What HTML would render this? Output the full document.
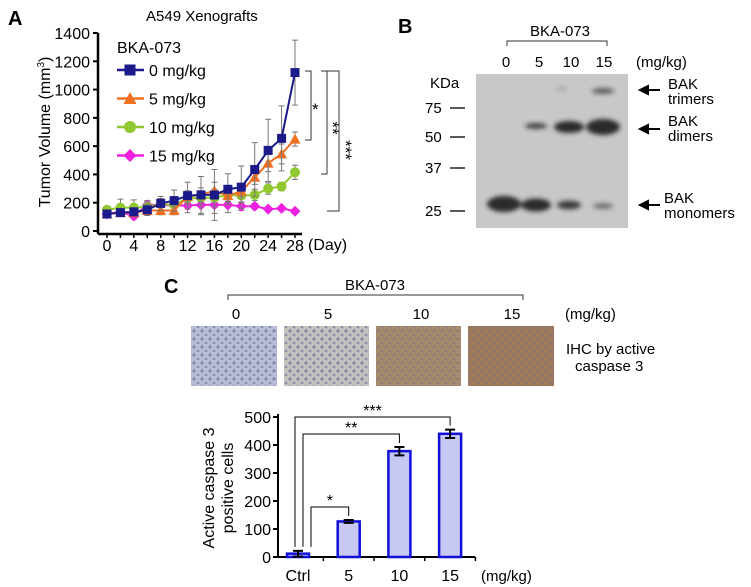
<!DOCTYPE html>
<html><head><meta charset="utf-8">
<style>
body{margin:0;background:#fff;}
svg{display:block;font-family:"Liberation Sans",Arial,sans-serif;}
</style></head>
<body>
<svg id="fig" width="751" height="587" viewBox="0 0 751 587">
<defs>
<filter id="blur2"><feGaussianBlur stdDeviation="2.5"/></filter>
<pattern id="cells" width="8" height="8" patternUnits="userSpaceOnUse">
<circle cx="2" cy="3" r="1.6" fill="#5a6599" opacity="0.6"/><circle cx="6" cy="7" r="1.4" fill="#5a6599" opacity="0.5"/>
</pattern>
</defs>

<!-- Panel A -->
<g>
<text x="8" y="25" font-size="20" font-weight="bold">A</text>
<text x="146" y="21" font-size="15">A549 Xenografts</text>
<text transform="translate(50,132) rotate(-90)" font-size="16" text-anchor="middle">Tumor Volume (mm<tspan font-size="10" dy="-6">3</tspan><tspan dy="6">)</tspan></text>
<g id="axesA"></g>
<g id="seriesA"></g>
<text x="117" y="53" font-size="16">BKA-073</text>
<g id="legendA"></g>
<text x="308" y="250" font-size="16">(Day)</text>
<g fill="none" stroke="#333" stroke-width="1">
<path d="M305 71 H311 V140 H305"/>
<path d="M321 71 H327 V174 H321"/>
<path d="M327 71 H339 V211 H327"/>
</g>
<text x="312" y="115" font-size="17">*</text>
<text transform="translate(327,128) rotate(90)" font-size="17" text-anchor="middle">**</text>
<text transform="translate(340,150) rotate(90)" font-size="17" text-anchor="middle">***</text>
</g>

<!-- Panel B -->
<g>
<text x="398" y="33" font-size="20" font-weight="bold">B</text>
<text x="560" y="36" font-size="15" text-anchor="middle">BKA-073</text>
<path d="M507 46 V41 H607 V46" fill="none" stroke="#333"/>
<g font-size="15" text-anchor="middle">
<text x="506" y="67">0</text><text x="539" y="67">5</text><text x="571" y="67">10</text><text x="604" y="67">15</text>
</g>
<text x="636" y="67" font-size="15">(mg/kg)</text>
<text x="430" y="88" font-size="15">KDa</text>
<g font-size="15">
<text x="425" y="113">75</text><text x="425" y="142">50</text><text x="425" y="173">37</text><text x="425" y="216">25</text>
</g>
<g stroke="#222" stroke-width="1.5">
<path d="M450 108 H465 M450 137 H465 M450 168 H465 M450 211 H465"/>
</g>
<rect x="476" y="74" width="152" height="154" fill="#c8c8c8"/>
<g fill="#2c2c2c" filter="url(#blur2)">
<ellipse cx="504" cy="204" rx="17" ry="8"/>
<ellipse cx="536" cy="205" rx="15" ry="6.5"/>
<ellipse cx="569" cy="205" rx="12" ry="4.5" opacity="0.9"/>
<ellipse cx="603" cy="206" rx="10" ry="3" opacity="0.55"/>
<ellipse cx="536" cy="126" rx="11" ry="3" opacity="0.85"/>
<ellipse cx="569" cy="127" rx="15" ry="6"/>
<ellipse cx="603" cy="127" rx="17" ry="8"/>
<ellipse cx="603" cy="91" rx="11" ry="3" opacity="0.7"/>
<ellipse cx="562" cy="89" rx="5" ry="1.5" opacity="0.3"/>
</g>
<g>
<path d="M640 90 H660 M640 90 l8 -4 v8 z" stroke="#000" stroke-width="2" fill="#000"/>
<text x="668" y="89" font-size="15">BAK</text><text x="668" y="104" font-size="15">trimers</text>
<path d="M640 129 H660 M640 129 l8 -4 v8 z" stroke="#000" stroke-width="2" fill="#000"/>
<text x="668" y="126" font-size="15">BAK</text><text x="668" y="141" font-size="15">dimers</text>
<path d="M640 205 H660 M640 205 l8 -4 v8 z" stroke="#000" stroke-width="2" fill="#000"/>
<text x="664" y="203" font-size="15">BAK</text><text x="664" y="218" font-size="15">monomers</text>
</g>
</g>

<!-- Panel C -->
<g>
<text x="164" y="293" font-size="20" font-weight="bold">C</text>
<text x="375" y="290" font-size="15" text-anchor="middle">BKA-073</text>
<path d="M228 300 V295 H523 V300" fill="none" stroke="#333"/>
<g font-size="15" text-anchor="middle">
<text x="236" y="319">0</text><text x="328" y="319">5</text><text x="421" y="319">10</text><text x="512" y="319">15</text>
</g>
<text x="565" y="319" font-size="15">(mg/kg)</text>
<g>
<rect x="191" y="326" width="86" height="60" fill="#b8bcd4"/><rect x="191" y="326" width="86" height="60" fill="url(#cells)"/>
<rect x="284" y="326" width="85" height="60" fill="#c4c1c0"/><rect x="284" y="326" width="85" height="60" fill="url(#cells)"/>
<rect x="376" y="326" width="85" height="60" fill="#a68a6c"/><rect x="376" y="326" width="85" height="60" fill="url(#cells)" opacity="0.6"/>
<rect x="468" y="326" width="86" height="60" fill="#a07a58"/><rect x="468" y="326" width="86" height="60" fill="url(#cells)" opacity="0.5"/>
</g>
<text x="566" y="354" font-size="15">IHC by active</text>
<text x="575" y="371" font-size="15">caspase 3</text>
<text transform="translate(214,488) rotate(-90)" font-size="16" text-anchor="middle">Active caspase 3</text>
<text transform="translate(233,488) rotate(-90)" font-size="16" text-anchor="middle">positive cells</text>
<g id="chartC"></g>
<text x="481" y="581" font-size="15">(mg/kg)</text>
</g>

<script>
// ---- Panel A data ----
const daysA = [0,2,4,6,8,10,12,14,16,18,20,22,24,26,28];
const yTicksA = [0,200,400,600,800,1000,1200,1400];
const xTicksA = [0,4,8,12,16,20,24,28];
const dose0 = [120,130,135,150,195,215,250,255,255,295,310,435,570,655,1120];
const dose0Err = [20,25,30,40,50,75,95,130,180,110,150,190,220,230,230];
const dose5 = [120,130,130,145,145,145,245,255,285,250,280,380,480,545,650];
const dose5Err = [20,20,20,30,30,30,40,50,60,40,40,50,60,70,50];
const dose10 = [150,165,165,170,190,185,230,235,235,255,250,255,300,315,415];
const dose10Err = [20,60,55,40,40,40,45,50,60,50,50,40,40,30,50];
const dose15 = [120,135,105,185,185,180,180,185,185,185,175,175,155,160,140];
const dose15Err = [20,25,20,30,40,45,50,70,60,55,30,20,10,10,10];
const seriesNames = ['0 mg/kg','5 mg/kg','10 mg/kg','15 mg/kg'];

// ---- Panel C data ----
const catsC = ['Ctrl','5','10','15'];
const valsC = [12,127,378,440];
const errsC = [10,5,15,15];
const yTicksC = [0,100,200,300,400,500];

const NS='http://www.w3.org/2000/svg';
function mk(tag, attrs, parent){const e=document.createElementNS(NS,tag);for(const k in attrs)e.setAttribute(k,attrs[k]);parent.appendChild(e);return e;}

const xA = d => 107 + d*(295-107)/28;
const yA = v => 231 - v*(231-33)/1400;
const axA=document.getElementById('axesA');
let p=mk('path',{d:`M98 33 V234 M98 234 H302`,stroke:'#000','stroke-width':2.5,fill:'none'},axA);


yTicksA.forEach(t=>{
  let l=mk('line',{x1:93,x2:98,y1:yA(t),y2:yA(t),stroke:'#000','stroke-width':2},axA);
  
  
  let tx=mk('text',{x:90,y:yA(t)+6,'font-size':16,'text-anchor':'end'},axA);tx.textContent=t;
  
  
});
daysA.forEach(d=>{
  let l=mk('line',{x1:xA(d),x2:xA(d),y1:234,y2:238,stroke:'#000','stroke-width':1.5},axA);
  
  
});
xTicksA.forEach(d=>{
  let tx=mk('text',{x:xA(d),y:251,'font-size':16,'text-anchor':'middle'},axA);tx.textContent=d;
  
  
});
const colors=['#1a1a8a','#f07020','#90c830','#f020e0'];
const shapes=['square','triangle','circle','diamond'];
const allVals=[dose0,dose5,dose10,dose15], allErr=[dose0Err,dose5Err,dose10Err,dose15Err];
function marker(g,shape,x,y,c,s){
  if(shape==='square') return mk('rect',{x:x-s,y:y-s,width:2*s,height:2*s,fill:c},g);
  if(shape==='triangle') return mk('path',{d:`M${x} ${y-s-1} L${x+s+1} ${y+s} L${x-s-1} ${y+s} Z`,fill:c},g);
  if(shape==='circle') return mk('circle',{cx:x,cy:y,r:s+0.5,fill:c},g);
  return mk('path',{d:`M${x} ${y-s-1} L${x+s+1} ${y} L${x} ${y+s+1} L${x-s-1} ${y} Z`,fill:c},g);
}
const sA=document.getElementById('seriesA');
[3,2,1,0].forEach(i=>{
  const g=mk('g',{},sA);
  
  
  daysA.forEach((d,j)=>{
    const v=allVals[i][j], e=allErr[i][j];
    let eb=mk('path',{d:`M${xA(d)} ${yA(v-e)} V${yA(v+e)} M${xA(d)-3} ${yA(v+e)} H${xA(d)+3} M${xA(d)-3} ${yA(v-e)} H${xA(d)+3}`,stroke:'#777','stroke-width':1,fill:'none'},g);
    
    
  });
  let ln=mk('polyline',{points:daysA.map((d,j)=>xA(d)+','+yA(allVals[i][j])).join(' '),stroke:colors[i],'stroke-width':2,fill:'none'},g);
  
  
  daysA.forEach((d,j)=>{
    let m=marker(g,shapes[i],xA(d),yA(allVals[i][j]),colors[i],4.5);
    
    
  });
});
const lg=document.getElementById('legendA');
seriesNames.forEach((n,i)=>{
  const y=70+i*28.5;
  const g=mk('g',{},lg);
  
  
  mk('line',{x1:117,x2:144,y1:y,y2:y,stroke:colors[i],'stroke-width':2.5},g);
  marker(g,shapes[i],130,y,colors[i],5.5);
  let t=mk('text',{x:149,y:y+6,'font-size':16},g);t.textContent=n;
});

const xC = i => 298 + i*50.7;
const yC = v => 557 - v*(557-417)/500;
const gc=document.getElementById('chartC');
p=mk('path',{d:`M278 414 V557 H475`,stroke:'#000','stroke-width':2,fill:'none'},gc);


yTicksC.forEach(t=>{
  let l=mk('line',{x1:273,x2:278,y1:yC(t),y2:yC(t),stroke:'#000','stroke-width':2},gc);
  
  
  let tx=mk('text',{x:271,y:yC(t)+6,'font-size':16,'text-anchor':'end'},gc);tx.textContent=t;
  
  
});
[0.5,1.5,2.5,3.5].forEach(k=>{
  let l=mk('line',{x1:xC(k),x2:xC(k),y1:557,y2:561,stroke:'#000','stroke-width':1.5},gc);
  
  
});
catsC.forEach((c,i)=>{
  const x=xC(i), v=valsC[i], e=errsC[i];
  let b=mk('rect',{x:x-11,y:yC(v),width:22,height:557-yC(v),fill:'#c8c8f4',stroke:'#1010d8','stroke-width':2.5},gc);
  
  
  let eb=mk('path',{d:`M${x} ${yC(v-e)} V${yC(v+e)} M${x-5} ${yC(v+e)} H${x+5} M${x-5} ${yC(v-e)} H${x+5}`,stroke:'#000','stroke-width':2,fill:'none'},gc);
  
  
  let tx=mk('text',{x:x,y:581,'font-size':16,'text-anchor':'middle'},gc);tx.textContent=c;
  
  
});
const sig=[[1,'*',0],[2,'**',1],[3,'***',2]];
const sigY=[507,434,417];
const sigX0=[311,303,295];
sig.forEach(([i,s,k])=>{
  const x0=sigX0[k], y=sigY[k], x1=xC(i);
  let pth=mk('path',{d:`M${x0} ${yC(valsC[0]+errsC[0])-4} V${y} H${x1} V${yC(valsC[i]+errsC[i])-4}`,stroke:'#000','stroke-width':1,fill:'none'},gc);
  
  
  let tx=mk('text',{x:(x0+x1)/2,y:y-1,'font-size':16,'text-anchor':'middle'},gc);tx.textContent=s;
  
  
});
</script>
</svg>
</body></html>
